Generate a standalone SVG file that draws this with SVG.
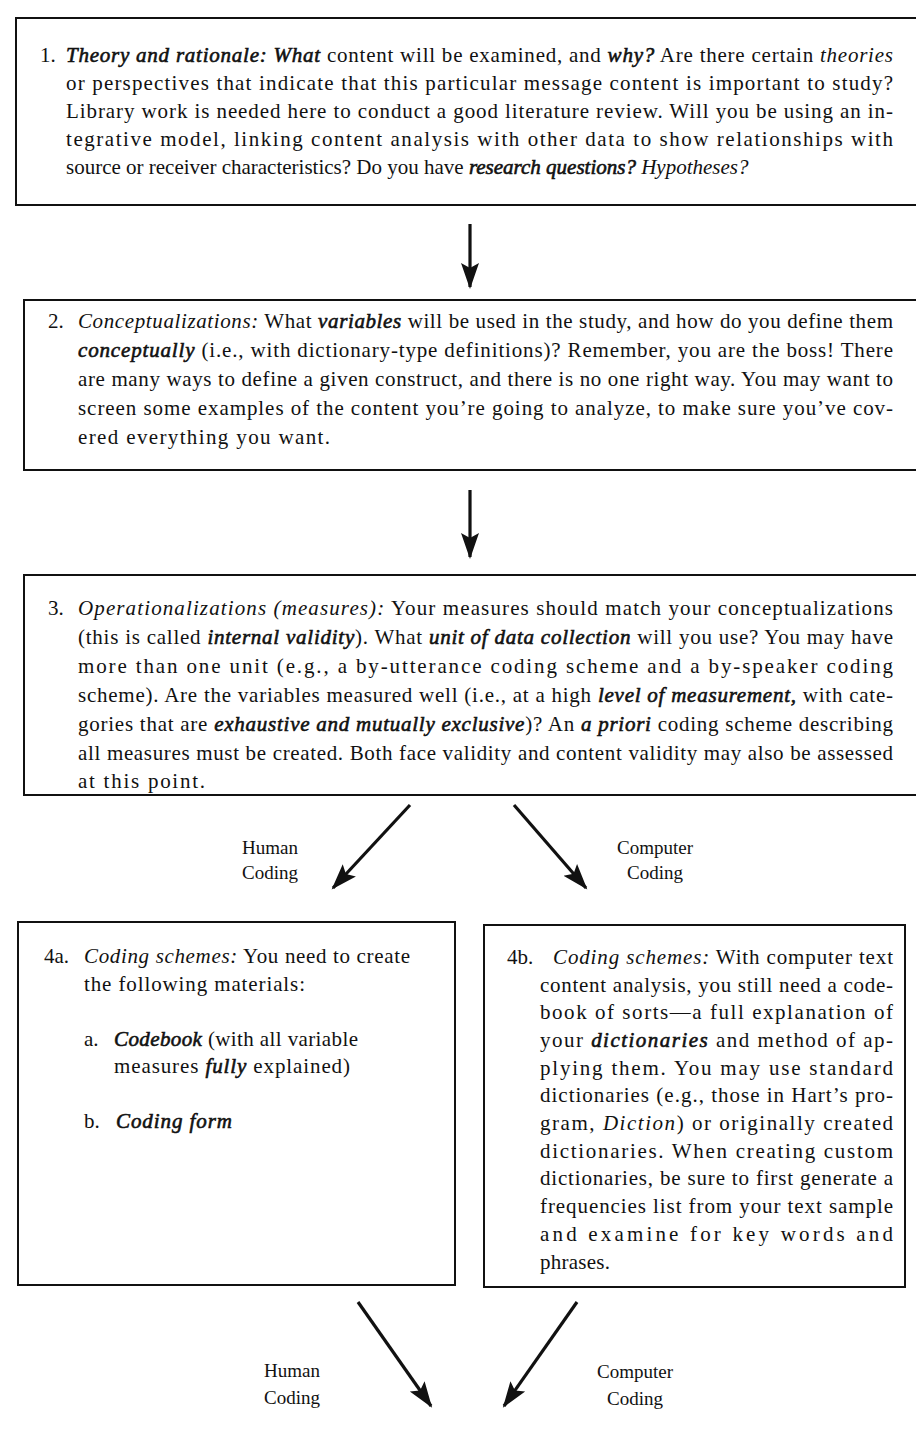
<svg xmlns="http://www.w3.org/2000/svg" width="916" height="1445" viewBox="0 0 916 1445">
<defs>
<style>
text{font-family:"Liberation Serif","DejaVu Serif",serif;font-size:21px;fill:#111}
.i{font-style:italic}
.bi{font-style:italic;stroke:#111;stroke-width:0.6}
.lbl{font-size:19px;text-anchor:middle}
.box{fill:none;stroke:#111;stroke-width:2}
.arr{stroke:#111;stroke-width:3.2;fill:none;marker-end:url(#ah)}
</style>
<marker id="ah" markerUnits="userSpaceOnUse" markerWidth="28" markerHeight="20" refX="24" refY="10" orient="auto">
<path d="M0,1 L26,10 L0,19 L5,10 z" fill="#111"/>
</marker>
</defs>
<rect width="916" height="1445" fill="#fff"/>

<g id="node1">
<path class="box" d="M916,18 H16 V205 H916"/>
<text x="40" y="62">1.</text>
<text x="66" y="62" textLength="827" lengthAdjust="spacing"><tspan class="bi">Theory and rationale: What</tspan> content will be examined, and <tspan class="bi">why?</tspan> Are there certain <tspan class="i">theories</tspan></text>
<text x="66" y="90" textLength="827" lengthAdjust="spacing">or perspectives that indicate that this particular message content is important to study?</text>
<text x="66" y="118" textLength="827" lengthAdjust="spacing">Library work is needed here to conduct a good literature review. Will you be using an in-</text>
<text x="66" y="146" textLength="827" lengthAdjust="spacing">tegrative model, linking content analysis with other data to show relationships with</text>
<text x="66" y="174">source or receiver characteristics? Do you have <tspan class="bi">research questions?</tspan> <tspan class="i">Hypotheses?</tspan></text>
</g>

<g id="node2">
<path class="box" d="M916,300 H24 V470 H916"/>
<text x="48" y="328">2.</text>
<text x="78" y="328" textLength="815" lengthAdjust="spacing"><tspan class="i">Conceptualizations:</tspan> What <tspan class="bi">variables</tspan> will be used in the study, and how do you define them</text>
<text x="78" y="357" textLength="815" lengthAdjust="spacing"><tspan class="bi">conceptually</tspan> (i.e., with dictionary-type definitions)? Remember, you are the boss! There</text>
<text x="78" y="386" textLength="815" lengthAdjust="spacing">are many ways to define a given construct, and there is no one right way. You may want to</text>
<text x="78" y="415" textLength="815" lengthAdjust="spacing">screen some examples of the content you’re going to analyze, to make sure you’ve cov-</text>
<text x="78" y="444" textLength="252" lengthAdjust="spacing">ered everything you want.</text>
</g>

<g id="node3">
<path class="box" d="M916,575 H24 V795 H916"/>
<text x="48" y="615">3.</text>
<text x="78" y="615" textLength="815" lengthAdjust="spacing"><tspan class="i">Operationalizations (measures):</tspan> Your measures should match your conceptualizations</text>
<text x="78" y="644" textLength="815" lengthAdjust="spacing">(this is called <tspan class="bi">internal validity</tspan>). What <tspan class="bi">unit of data collection</tspan> will you use? You may have</text>
<text x="78" y="673" textLength="815" lengthAdjust="spacing">more than one unit (e.g., a by-utterance coding scheme and a by-speaker coding</text>
<text x="78" y="702" textLength="815" lengthAdjust="spacing">scheme). Are the variables measured well (i.e., at a high <tspan class="bi">level of measurement,</tspan> with cate-</text>
<text x="78" y="731" textLength="815" lengthAdjust="spacing">gories that are <tspan class="bi">exhaustive and mutually exclusive</tspan>)? An <tspan class="bi">a priori</tspan> coding scheme describing</text>
<text x="78" y="760" textLength="815" lengthAdjust="spacing">all measures must be created. Both face validity and content validity may also be assessed</text>
<text x="78" y="788" textLength="127" lengthAdjust="spacing">at this point.</text>
</g>

<g id="node4a">
<rect class="box" x="18" y="922" width="437" height="363"/>
<text x="44" y="963">4a.</text>
<text x="84" y="963" textLength="326" lengthAdjust="spacing"><tspan class="i">Coding schemes:</tspan> You need to create</text>
<text x="84" y="991" textLength="221" lengthAdjust="spacing">the following materials:</text>
<text x="84" y="1046">a.</text>
<text x="114" y="1046" textLength="244" lengthAdjust="spacing"><tspan class="bi">Codebook</tspan> (with all variable</text>
<text x="114" y="1073" textLength="236" lengthAdjust="spacing">measures <tspan class="bi">fully</tspan> explained)</text>
<text x="84" y="1128">b.</text>
<text x="116" y="1128" class="bi" textLength="116" lengthAdjust="spacing">Coding form</text>
</g>

<g id="node4b">
<rect class="box" x="484" y="925" width="421" height="362"/>
<text x="507" y="964">4b.</text>
<text x="553" y="964" textLength="340" lengthAdjust="spacing"><tspan class="i">Coding schemes:</tspan> With computer text</text>
<text x="540" y="992" textLength="353" lengthAdjust="spacing">content analysis, you still need a code-</text>
<text x="540" y="1019" textLength="353" lengthAdjust="spacing">book of sorts—a full explanation of</text>
<text x="540" y="1047" textLength="353" lengthAdjust="spacing">your <tspan class="bi">dictionaries</tspan> and method of ap-</text>
<text x="540" y="1075" textLength="353" lengthAdjust="spacing">plying them. You may use standard</text>
<text x="540" y="1102" textLength="353" lengthAdjust="spacing">dictionaries (e.g., those in Hart’s pro-</text>
<text x="540" y="1130" textLength="353" lengthAdjust="spacing">gram, <tspan class="i">Diction</tspan>) or originally created</text>
<text x="540" y="1158" textLength="353" lengthAdjust="spacing">dictionaries. When creating custom</text>
<text x="540" y="1185" textLength="353" lengthAdjust="spacing">dictionaries, be sure to first generate a</text>
<text x="540" y="1213" textLength="353" lengthAdjust="spacing">frequencies list from your text sample</text>
<text x="540" y="1241" textLength="353" lengthAdjust="spacing">and examine for key words and</text>
<text x="540" y="1269" textLength="70" lengthAdjust="spacing">phrases.</text>
</g>

<g id="connectors">
<line class="arr" x1="470" y1="224" x2="470" y2="287"/>
<line class="arr" x1="470" y1="490" x2="470" y2="557"/>
<line class="arr" x1="410" y1="805" x2="333" y2="888"/>
<line class="arr" x1="514" y1="805" x2="586" y2="888"/>
<line class="arr" x1="358" y1="1302" x2="431" y2="1406"/>
<line class="arr" x1="577" y1="1302" x2="504" y2="1406"/>
</g>

<g id="labels">
<text class="lbl" x="270" y="854">Human</text>
<text class="lbl" x="270" y="879">Coding</text>
<text class="lbl" x="655" y="854">Computer</text>
<text class="lbl" x="655" y="879">Coding</text>
<text class="lbl" x="292" y="1377">Human</text>
<text class="lbl" x="292" y="1404">Coding</text>
<text class="lbl" x="635" y="1378">Computer</text>
<text class="lbl" x="635" y="1405">Coding</text>
</g>
</svg>
